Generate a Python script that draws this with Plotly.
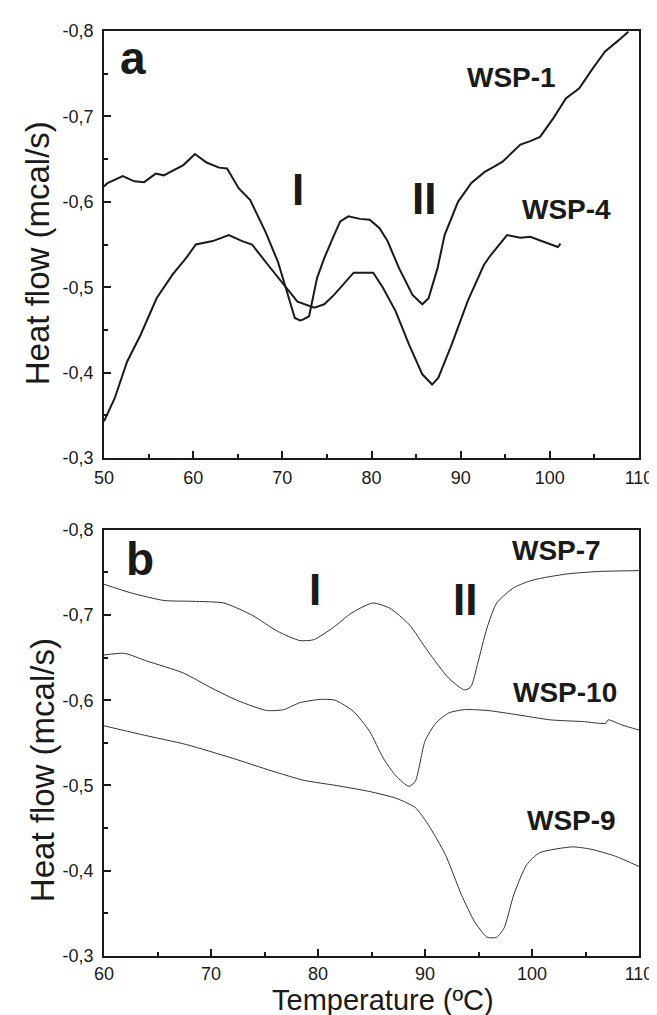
import plotly.graph_objects as go

# ---------------- data ----------------
# Panel a
a_wsp1_x = [50, 50.4, 52.1, 53.4, 54.5, 55.8, 56.7, 58.9, 60.2, 61.5, 62.9, 63.8, 65.1, 66.4, 68.1, 69.5,
            71.4, 72.0, 72.3, 73.0, 73.9, 74.3, 74.7, 75.8, 76.5, 77.4, 78.7, 79.8, 80.9, 81.8, 83.1, 84.6,
            85.7, 86.4, 87.4, 88.2, 89.7, 91.2, 92.7, 93.7, 94.7, 96.7, 97.8, 98.9, 100.4, 101.8, 103.3,
            104.8, 106.2, 107.7, 108.8]
a_wsp1_y = [-0.618, -0.622, -0.630, -0.624, -0.623, -0.633, -0.631, -0.643, -0.656, -0.646, -0.640, -0.639,
            -0.616, -0.602, -0.565, -0.530, -0.464, -0.461, -0.462, -0.466, -0.511, -0.522, -0.534, -0.561,
            -0.577, -0.583, -0.580, -0.579, -0.569, -0.554, -0.522, -0.491, -0.480, -0.487, -0.522, -0.561,
            -0.600, -0.622, -0.635, -0.641, -0.647, -0.667, -0.671, -0.676, -0.698, -0.721, -0.733, -0.756,
            -0.776, -0.789, -0.799]

a_wsp4_x = [50, 51.2, 52.6, 54.1, 55.9, 57.7, 59.2, 60.3, 62.2, 64.0, 65.5, 66.6, 68.4, 69.9, 71.7, 73.6,
            74.7, 75.8, 77.0, 78.0, 79.1, 80.2, 81.3, 82.7, 84.2, 85.7, 86.8, 87.5, 89.0, 90.8, 92.6, 93.4,
            95.2, 96.7, 97.8, 99.6, 100.9, 101.2]
a_wsp4_y = [-0.343, -0.370, -0.413, -0.444, -0.487, -0.515, -0.534, -0.550, -0.554, -0.561, -0.554, -0.550,
            -0.526, -0.507, -0.483, -0.476, -0.480, -0.491, -0.505, -0.517, -0.517, -0.517, -0.499, -0.472,
            -0.433, -0.398, -0.386, -0.394, -0.433, -0.484, -0.526, -0.538, -0.561, -0.558, -0.559, -0.552,
            -0.547, -0.551]

# Panel b
b_wsp7_x = [60, 62.5, 65.6, 68.3, 71.2, 73.8, 76.2, 78.3, 79.6, 81.4, 83.1, 85.1, 86.7, 88.5, 90.3, 92.2,
            93.7, 94.3, 94.9, 95.8, 96.7, 98.3, 100.1, 103.2, 106.2, 110]
b_wsp7_y = [-0.736, -0.726, -0.717, -0.716, -0.714, -0.700, -0.681, -0.670, -0.671, -0.685, -0.702, -0.714,
            -0.708, -0.689, -0.657, -0.626, -0.612, -0.616, -0.642, -0.685, -0.714, -0.732, -0.741, -0.748,
            -0.751, -0.752]

b_wsp10_x = [60, 61.9, 64.0, 67.4, 70.1, 72.6, 75.2, 76.8, 78.3, 80.2, 81.6, 83.3, 84.8, 86.1, 87.3, 88.5,
             89.1, 90.0, 91.0, 92.2, 93.7, 95.8, 98.6, 101.7, 104.7, 106.9, 107.1, 108.4, 110]
b_wsp10_y = [-0.653, -0.655, -0.646, -0.632, -0.614, -0.599, -0.588, -0.589, -0.597, -0.601, -0.600, -0.587,
             -0.564, -0.532, -0.511, -0.499, -0.505, -0.552, -0.573, -0.585, -0.589, -0.588, -0.583, -0.577,
             -0.575, -0.573, -0.577, -0.571, -0.565]

b_wsp9_x = [60, 63.4, 67.7, 72.0, 75.7, 78.7, 81.7, 84.8, 87.3, 89.1, 90.3, 91.9, 93.4, 94.6, 95.8, 96.7,
            97.4, 98.3, 99.5, 100.7, 103.8, 105.6, 107.8, 110]
b_wsp9_y = [-0.570, -0.560, -0.548, -0.532, -0.517, -0.506, -0.500, -0.493, -0.485, -0.474, -0.454, -0.419,
            -0.372, -0.341, -0.322, -0.322, -0.333, -0.372, -0.407, -0.421, -0.428, -0.425, -0.417, -0.405]

y_tickvals = [-0.8, -0.7, -0.6, -0.5, -0.4, -0.3]
y_ticktext = ["-0,8", "-0,7", "-0,6", "-0,5", "-0,4", "-0,3"]
xa_tickvals = [50, 60, 70, 80, 90, 100, 110]
xb_tickvals = [60, 70, 80, 90, 100, 110]

# ---------------- layout helpers ----------------
W, H = 657, 1015
ML, MR, MT, MB = 96, 16, 23, 67
PW = W - ML - MR
PH = H - MT - MB


def py(px):
    return (H - MB - px) / PH


def pxx(px):
    return (px - ML) / PW


ink = "#1a1a1a"
font_family = "Liberation Sans, Arial, Helvetica, sans-serif"

fig = go.Figure()
fig.add_trace(go.Scatter(x=a_wsp1_x, y=a_wsp1_y, mode="lines", line=dict(color=ink, width=2),
                         xaxis="x", yaxis="y", showlegend=False))
fig.add_trace(go.Scatter(x=a_wsp4_x, y=a_wsp4_y, mode="lines", line=dict(color=ink, width=2),
                         xaxis="x", yaxis="y", showlegend=False))
for xs, ys in [(b_wsp7_x, b_wsp7_y), (b_wsp10_x, b_wsp10_y), (b_wsp9_x, b_wsp9_y)]:
    fig.add_trace(go.Scatter(x=xs, y=ys, mode="lines",
                             line=dict(color="#333333", width=1, shape="spline", smoothing=0.6),
                             xaxis="x2", yaxis="y2", showlegend=False))

axis_common = dict(showline=True, linecolor=ink, linewidth=1.5, mirror=True, ticks="inside",
                   ticklen=7, tickwidth=1.5, tickcolor=ink, showgrid=False, zeroline=False,
                   tickfont=dict(family=font_family, size=18, color=ink))

fig.update_layout(
    width=W, height=H, autosize=False,
    margin=dict(l=ML, r=MR, t=MT, b=MB),
    paper_bgcolor="white", plot_bgcolor="white",
    xaxis=dict(domain=[0, 1], anchor="y", range=[50, 110], tickvals=xa_tickvals, ticklabelstandoff=3,
               minor=dict(ticks="inside", ticklen=4, tickwidth=1.5, tickcolor=ink, dtick=5, tick0=50),
               **axis_common),
    yaxis=dict(domain=[py(450), 1], anchor="x", range=[-0.3, -0.8], tickvals=y_tickvals,
               ticktext=y_ticktext, ticklabelstandoff=5,
               minor=dict(ticks="inside", ticklen=4, tickwidth=1.5, tickcolor=ink, dtick=0.05, tick0=-0.8),
               **axis_common),
    xaxis2=dict(domain=[0, 1], anchor="y2", range=[60, 110], tickvals=xb_tickvals, ticklabelstandoff=1,
                minor=dict(ticks="inside", ticklen=4, tickwidth=1.5, tickcolor=ink, dtick=5, tick0=60),
                **axis_common),
    yaxis2=dict(domain=[0, py(521.7)], anchor="x2", range=[-0.3, -0.8], tickvals=y_tickvals,
                ticktext=y_ticktext, ticklabelstandoff=5,
                minor=dict(ticks="inside", ticklen=4, tickwidth=1.5, tickcolor=ink, dtick=0.05, tick0=-0.8),
                **axis_common),
)

bold = dict(family=font_family, color=ink)
ann = []
# panel a labels
ann.append(dict(x=53.2, y=-0.768, xref="x", yref="y", text="<b>a</b>", font=dict(size=46, **bold)))
ann.append(dict(x=71.8, y=-0.614, xref="x", yref="y", text="<b>I</b>", font=dict(size=44, **bold)))
ann.append(dict(x=85.9, y=-0.604, xref="x", yref="y", text="<b>II</b>", font=dict(size=44, **bold)))
ann.append(dict(x=95.7, y=-0.745, xref="x", yref="y", text="<b>WSP-1</b>", font=dict(size=28, **bold)))
ann.append(dict(x=101.9, y=-0.591, xref="x", yref="y", text="<b>WSP-4</b>", font=dict(size=28, **bold)))
# panel b labels
ann.append(dict(x=63.4, y=-0.766, xref="x2", yref="y2", text="<b>b</b>", font=dict(size=46, **bold)))
ann.append(dict(x=79.7, y=-0.730, xref="x2", yref="y2", text="<b>I</b>", font=dict(size=44, **bold)))
ann.append(dict(x=93.7, y=-0.718, xref="x2", yref="y2", text="<b>II</b>", font=dict(size=44, **bold)))
ann.append(dict(x=102.3, y=-0.776, xref="x2", yref="y2", text="<b>WSP-7</b>", font=dict(size=28, **bold)))
ann.append(dict(x=103.1, y=-0.609, xref="x2", yref="y2", text="<b>WSP-10</b>", font=dict(size=28, **bold)))
ann.append(dict(x=103.7, y=-0.459, xref="x2", yref="y2", text="<b>WSP-9</b>", font=dict(size=28, **bold)))
for a in ann:
    a.update(yanchor="middle")
# axis titles
ann.append(dict(x=pxx(28), y=py(245), xref="paper", yref="paper", text="Heat flow (mcal/s)",
                textangle=-90, yanchor="middle", font=dict(family=font_family, size=33, color=ink)))
ann.append(dict(x=pxx(33), y=py(762), xref="paper", yref="paper", text="Heat flow (mcal/s)",
                textangle=-90, yanchor="middle", font=dict(family=font_family, size=33, color=ink)))
ann.append(dict(x=pxx(380), y=py(1009), xref="paper", yref="paper", text="Temperature (ºC)",
                yanchor="bottom", borderpad=0, font=dict(family=font_family, size=29, color=ink)))
for a in ann:
    a.update(showarrow=False, xanchor="center")
fig.update_layout(annotations=ann)

fig.write_html("out.html")
